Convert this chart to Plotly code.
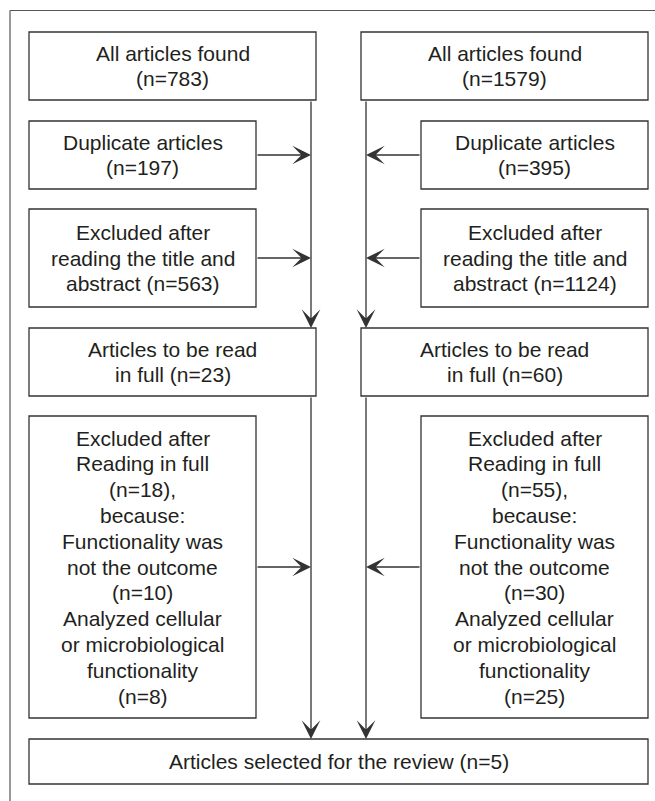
import plotly.graph_objects as go

# ---------------- data ----------------
left_counts = [783, 197, 563, 23, 18, 10, 8]
right_counts = [1579, 395, 1124, 60, 55, 30, 25]
final_count = 5


def box_texts(c):
    found, dup, excl, full, excl_full, not_out, cell = c
    return {
        "found": ["All articles found", f"(n={found})"],
        "dup": ["Duplicate articles", f"(n={dup})"],
        "excl": ["Excluded after", "reading the title and", f"abstract (n={excl})"],
        "full": ["Articles to be read", f"in full (n={full})"],
        "exclfull": ["Excluded after", "Reading in full", f"(n={excl_full}),", "because:",
                     "Functionality was", "not the outcome", f"(n={not_out})",
                     "Analyzed cellular", "or microbiological", "functionality", f"(n={cell})"],
    }


final_text = [f"Articles selected for the review (n={final_count})"]

# ---------------- layout geometry ----------------
W, H = 655, 801
ROWS = {"found": (32, 100), "dup": (121, 189), "excl": (209, 307),
        "full": (328, 396), "exclfull": (416, 718)}
COLS = {
    "left": {"wide": (29, 316), "narrow": (29, 256), "spine": 311},
    "right": {"wide": (361, 648), "narrow": (421, 648), "spine": 366},
}
FINAL = ((29, 648), (739, 784))
WIDE_ROWS = {"found", "full"}

TEXT_COLOR = "#231f20"
LINE_COLOR = "#333333"
FONT = dict(family="Liberation Sans, Arial, Helvetica, sans-serif", size=21, color=TEXT_COLOR)
LINE_H = 25.8

shapes = []
annotations = []


def add_box(x0, x1, y0, y1, lines):
    shapes.append(dict(type="rect", xref="x", yref="y", x0=x0, x1=x1, y0=y0, y1=y1,
                       line=dict(color=LINE_COLOR, width=1.3), fillcolor="rgba(0,0,0,0)"))
    cx = (x0 + x1) / 2
    cy = (y0 + y1) / 2
    n = len(lines)
    for i, t in enumerate(lines):
        yy = cy + (i - (n - 1) / 2) * LINE_H
        annotations.append(dict(x=cx, y=yy, xref="x", yref="y", text=t, showarrow=False,
                                font=FONT, xanchor="center", yanchor="middle"))


def add_arrow(x_tail, y_tail, x_head, y_head):
    annotations.append(dict(x=x_head, y=y_head, ax=x_tail, ay=y_tail, xref="x", yref="y",
                            axref="x", ayref="y", text="", showarrow=True,
                            arrowhead=3, arrowsize=2.4, arrowwidth=1.3,
                            arrowcolor=LINE_COLOR, standoff=0, startstandoff=0))


for side, counts in (("left", left_counts), ("right", right_counts)):
    col = COLS[side]
    texts = box_texts(counts)
    for key, (y0, y1) in ROWS.items():
        x0, x1 = col["wide"] if key in WIDE_ROWS else col["narrow"]
        add_box(x0, x1, y0, y1, texts[key])
        if key not in WIDE_ROWS:
            cy = (y0 + y1) / 2
            tail = x1 if side == "left" else x0
            add_arrow(tail, cy, col["spine"], cy)
    sx = col["spine"]
    add_arrow(sx, ROWS["found"][1], sx, ROWS["full"][0])
    add_arrow(sx, ROWS["full"][1], sx, FINAL[1][0])

add_box(FINAL[0][0], FINAL[0][1], FINAL[1][0], FINAL[1][1], final_text)

# outer frame (top and left lines)
shapes.append(dict(type="line", xref="x", yref="y", x0=10, x1=W, y0=10.5, y1=10.5,
                   line=dict(color="#555555", width=1.2)))
shapes.append(dict(type="line", xref="x", yref="y", x0=10, x1=10, y0=10.5, y1=H,
                   line=dict(color="#555555", width=1.2)))

fig = go.Figure()
fig.update_layout(
    width=W, height=H, margin=dict(l=0, r=0, t=0, b=0),
    paper_bgcolor="white", plot_bgcolor="white",
    xaxis=dict(range=[0, W], visible=False, fixedrange=True),
    yaxis=dict(range=[H, 0], visible=False, fixedrange=True),
    shapes=shapes, annotations=annotations, showlegend=False,
)
fig.write_html(
    "out.html",
    config={"displayModeBar": False},
    post_script="document.body.style.margin='0';document.body.style.overflow='hidden';",
)
